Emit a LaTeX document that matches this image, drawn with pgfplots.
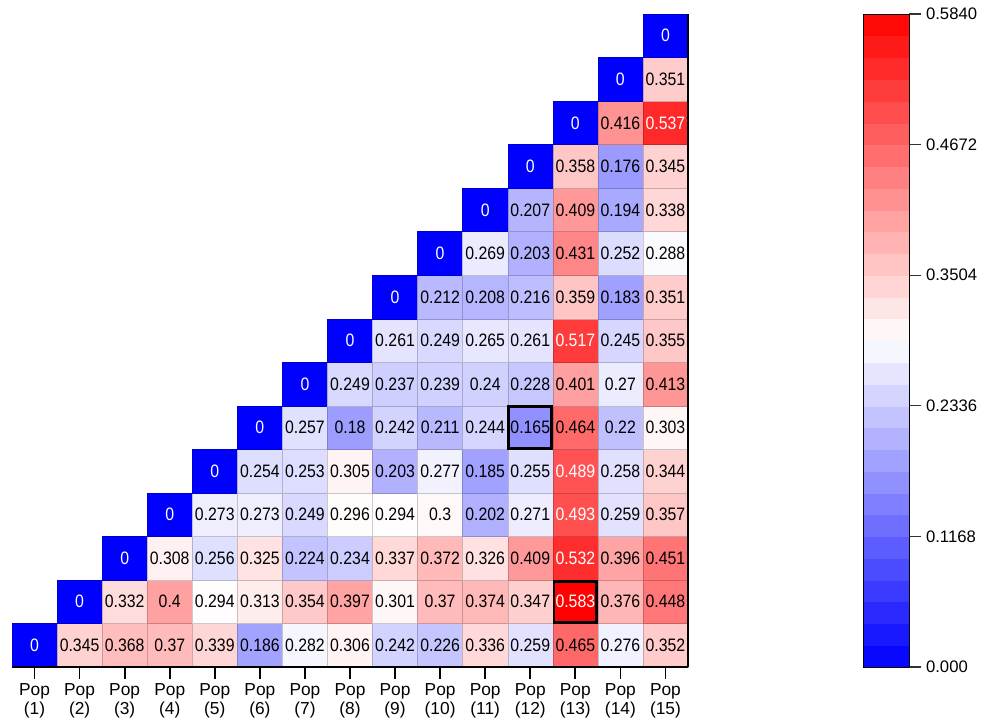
\documentclass[border=0pt]{standalone}
\usepackage{fontspec}
\setmainfont{Liberation Sans}
\newfontfamily\cellfont[FakeStretch=0.88]{Liberation Sans}
\usepackage{pgfplots}
\usepackage{pgfplotstable}
\pgfplotsset{compat=1.18}

\pgfplotstableread{
x y v w
1 1 0 100
2 1 0.345 0
3 1 0.368 0
4 1 0.37 0
5 1 0.339 0
6 1 0.186 0
7 1 0.282 0
8 1 0.306 0
9 1 0.242 0
10 1 0.226 0
11 1 0.336 0
12 1 0.259 0
13 1 0.465 0
14 1 0.276 0
15 1 0.352 0
2 2 0 100
3 2 0.332 0
4 2 0.4 0
5 2 0.294 0
6 2 0.313 0
7 2 0.354 0
8 2 0.397 0
9 2 0.301 0
10 2 0.37 0
11 2 0.374 0
12 2 0.347 0
13 2 0.583 100
14 2 0.376 0
15 2 0.448 0
3 3 0 100
4 3 0.308 0
5 3 0.256 0
6 3 0.325 0
7 3 0.224 0
8 3 0.234 0
9 3 0.337 0
10 3 0.372 0
11 3 0.326 0
12 3 0.409 0
13 3 0.532 100
14 3 0.396 0
15 3 0.451 0
4 4 0 100
5 4 0.273 0
6 4 0.273 0
7 4 0.249 0
8 4 0.296 0
9 4 0.294 0
10 4 0.3 0
11 4 0.202 0
12 4 0.271 0
13 4 0.493 100
14 4 0.259 0
15 4 0.357 0
5 5 0 100
6 5 0.254 0
7 5 0.253 0
8 5 0.305 0
9 5 0.203 0
10 5 0.277 0
11 5 0.185 0
12 5 0.255 0
13 5 0.489 100
14 5 0.258 0
15 5 0.344 0
6 6 0 100
7 6 0.257 0
8 6 0.18 0
9 6 0.242 0
10 6 0.211 0
11 6 0.244 0
12 6 0.165 0
13 6 0.464 0
14 6 0.22 0
15 6 0.303 0
7 7 0 100
8 7 0.249 0
9 7 0.237 0
10 7 0.239 0
11 7 0.24 0
12 7 0.228 0
13 7 0.401 0
14 7 0.27 0
15 7 0.413 0
8 8 0 100
9 8 0.261 0
10 8 0.249 0
11 8 0.265 0
12 8 0.261 0
13 8 0.517 100
14 8 0.245 0
15 8 0.355 0
9 9 0 100
10 9 0.212 0
11 9 0.208 0
12 9 0.216 0
13 9 0.359 0
14 9 0.183 0
15 9 0.351 0
10 10 0 100
11 10 0.269 0
12 10 0.203 0
13 10 0.431 0
14 10 0.252 0
15 10 0.288 0
11 11 0 100
12 11 0.207 0
13 11 0.409 0
14 11 0.194 0
15 11 0.338 0
12 12 0 100
13 12 0.358 0
14 12 0.176 0
15 12 0.345 0
13 13 0 100
14 13 0.416 0
15 13 0.537 100
14 14 0 100
15 14 0.351 0
15 15 0 100
}\data

\begin{document}
\begin{tikzpicture}
\path (0,0) rectangle (739.5pt,543pt);
\begin{axis}[
  at={(9pt,42.75pt)}, anchor=south west,
  scale only axis, width=507pt, height=489.75pt,
  xmin=0.5, xmax=15.5, ymin=0.5, ymax=15.5,
  axis line style={draw=none},
  xtick=\empty, ytick=\empty,
  colormap={bwr}{rgb255=(0,0,255) rgb255=(255,255,255) rgb255=(255,0,0)},
  point meta min=0, point meta max=0.584,
  colorbar right, colorbar sampled,
  colorbar style={
    at={(parent axis.north east)}, anchor=north west, xshift=123pt,
    width=34.5pt,
    samples=31,
    ytick={0,0.1168,0.2336,0.3504,0.4672,0.584},
    yticklabels={0.000,0.1168,0.2336,0.3504,0.4672,0.5840},
    yticklabel style={font=\fontsize{12.5}{15}\selectfont},
    ytick pos=right, ytick align=outside, major tick length=9pt,
    ytick style={line width=0.8pt, draw=black!80},
    axis line style={draw=black, line width=0.6pt},
  },
]
\addplot[scatter, only marks, mark=square*, mark size=16.9pt,
  scatter src=explicit,
  mark options={yscale=0.966, line width=0.3pt}]
  table[x=x, y=y, meta=v] {\data};
\addplot[only marks, mark=none, point meta=explicit,
  restrict expr to domain={\thisrow{w}}{-10:50},
  nodes near coords={\pgfmathprintnumber[fixed,precision=3,assume math mode=true]{\pgfplotspointmeta}},
  every node near coord/.append style={anchor=center, text=black, font=\cellfont\fontsize{13.5}{15}\selectfont},
] table[x=x, y=y, meta=v] {\data};
\addplot[only marks, mark=none, point meta=explicit,
  restrict expr to domain={\thisrow{w}}{50:150},
  nodes near coords={\pgfmathprintnumber[fixed,precision=3,assume math mode=true]{\pgfplotspointmeta}},
  every node near coord/.append style={anchor=center, text=white, font=\cellfont\fontsize{13.5}{15}\selectfont},
] table[x=x, y=y, meta=v] {\data};
\addplot[only marks, mark=square, mark size=16.0pt,
  mark options={yscale=0.966, line width=2.2pt, draw=black}]
  coordinates {(12,6) (13,2)};
\end{axis}
\begin{axis}[
  at={(9pt,42.75pt)}, anchor=south west,
  scale only axis, width=507pt, height=489.75pt,
  xmin=0.5, xmax=15.5, ymin=0.5, ymax=15.5,
  axis x line*=bottom, axis y line*=right,
  every non boxed x axis/.append style={xtick align=outside},
  axis line style={line width=1.5pt, draw=black},
  ytick=\empty,
  xtick={1,...,15},
  xtick align=outside,
  xticklabels={Pop\\(1),Pop\\(2),Pop\\(3),Pop\\(4),Pop\\(5),Pop\\(6),Pop\\(7),Pop\\(8),Pop\\(9),Pop\\(10),Pop\\(11),Pop\\(12),Pop\\(13),Pop\\(14),Pop\\(15)},
  xticklabel style={align=center, font=\fontsize{13}{14.5}\selectfont, inner sep=3pt},
  major tick length=9pt,
  xtick style={line width=1.3pt, draw=black},
]
\end{axis}
\end{tikzpicture}
\end{document}
